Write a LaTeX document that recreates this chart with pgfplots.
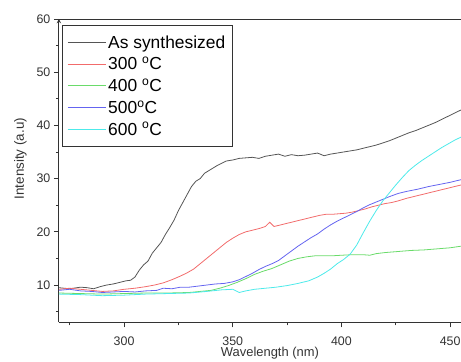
\documentclass[border=0pt]{standalone}
\usepackage{pgfplots}
\pgfplotsset{compat=1.18}
\usepackage{fontspec}
\setmainfont{Liberation Sans}
\definecolor{serGray}{HTML}{555555}
\definecolor{serRed}{HTML}{F26B6B}
\definecolor{serGreen}{HTML}{6ADB6A}
\definecolor{serBlue}{HTML}{6464F0}
\definecolor{serCyan}{HTML}{4DEAEA}
\definecolor{axc}{HTML}{333333}
\begin{document}
\begin{tikzpicture}
\begin{axis}[
  scale only axis,
  width=403bp, height=304bp,
  xmin=270, xmax=455, ymin=3, ymax=60,
  axis y line=left, axis x line=box,
  axis line style={axc, line width=0.9pt},
  every axis plot/.append style={line width=0.8pt},
  xtick={300,350,400,450}, minor xtick={275,325,375,425},
  ytick={10,20,30,40,50,60}, minor ytick={5,15,25,35,45,55},
  xtick pos=bottom,
  tick align=outside,
  major tick length=5bp, minor tick length=3bp,
  every tick/.style={axc, line width=0.8pt},
  /pgf/number format/assume math mode=true,
  tick label style={font=\fontsize{12.5}{13}\selectfont, text=axc},
  xticklabel style={yshift=-6bp},
  xlabel={Wavelength (nm)}, ylabel={Intensity (a.u)},
  xlabel style={font=\fontsize{13}{14}\selectfont, text=axc, yshift=5bp, xshift=10bp},
  ylabel style={font=\fontsize{13.5}{14}\selectfont, text=axc, yshift=3bp, xshift=12bp},
  legend style={at={(0.008,0.98)}, anchor=north west, draw=axc, line width=0.9pt,
    font=\fontsize{17.5}{18}\selectfont, row sep=3.5bp, inner xsep=5bp, inner ysep=8bp,
    cells={anchor=west}},
  legend cell align=left,
  legend image code/.code={\draw[#1,line width=0.8pt] (0bp,0bp) -- (38bp,0bp);},
]
\addplot[color=serGray, draw=serGray] coordinates {(270,9.5)(275,9.3)(280,9.6)(283,9.5)(286,9.3)(289,9.7)(292,10.0)(295,10.2)(298,10.5)(301,10.8)(303,10.9)(305,11.5)(307,12.8)(309,13.8)(311,14.5)(313,16.0)(315,17.0)(317,18.0)(319,19.5)(321,20.8)(323,22.2)(325,24.0)(327,25.5)(329,27.0)(331,28.5)(333,29.5)(335,30.0)(337,31.0)(339,31.5)(341,32.0)(343,32.5)(345,32.9)(347,33.3)(350,33.5)(353,33.8)(356,33.9)(359,34.0)(362,33.8)(365,34.2)(368,34.4)(371,34.6)(374,34.2)(377,34.5)(380,34.3)(383,34.4)(386,34.6)(389,34.8)(392,34.3)(395,34.6)(398,34.8)(401,35.0)(404,35.2)(407,35.4)(410,35.7)(413,36.0)(416,36.3)(419,36.7)(422,37.1)(425,37.6)(428,38.1)(431,38.6)(434,39.0)(437,39.5)(440,40.0)(443,40.5)(446,41.1)(449,41.7)(452,42.3)(455,42.9)};
\addlegendentry{As synthesized}
\addplot[color=serRed, draw=serRed] coordinates {(270,9.2)(275,9.4)(280,9.2)(285,9.0)(290,8.8)(295,8.9)(300,9.2)(305,9.4)(310,9.7)(314,10.0)(318,10.4)(322,11.0)(326,11.7)(329,12.3)(332,13.0)(335,14.0)(338,15.0)(341,16.0)(344,17.0)(347,18.0)(350,18.8)(353,19.5)(356,20.0)(359,20.3)(362,20.6)(365,21.0)(367,21.8)(369,21.0)(372,21.3)(375,21.6)(378,21.9)(381,22.2)(384,22.5)(387,22.8)(390,23.1)(393,23.3)(396,23.3)(399,23.4)(402,23.5)(405,23.7)(408,24.0)(411,24.3)(414,24.7)(417,25.0)(420,25.3)(423,25.5)(426,25.8)(430,26.3)(434,26.7)(438,27.1)(442,27.5)(446,27.9)(450,28.3)(455,28.8)};
\addlegendentry{300 \textsuperscript{o}C}
\addplot[color=serGreen, draw=serGreen] coordinates {(270,8.5)(280,8.4)(290,8.3)(300,8.4)(310,8.5)(320,8.5)(330,8.6)(335,8.8)(340,9.0)(344,9.4)(348,9.9)(352,10.5)(356,11.2)(360,12.0)(364,12.6)(368,13.1)(372,13.8)(376,14.5)(380,15.0)(384,15.3)(388,15.5)(392,15.5)(396,15.5)(400,15.6)(405,15.7)(410,15.7)(413,15.6)(416,15.9)(420,16.1)(426,16.3)(432,16.5)(438,16.6)(444,16.8)(450,17.0)(455,17.3)};
\addlegendentry{400 \textsuperscript{o}C}
\addplot[color=serBlue, draw=serBlue] coordinates {(270,9.0)(275,9.2)(280,8.9)(285,8.8)(290,8.6)(295,8.7)(300,8.8)(305,8.7)(310,8.9)(315,9.0)(318,9.4)(322,9.3)(326,9.6)(330,9.6)(334,9.8)(338,10.0)(342,10.2)(346,10.3)(350,10.6)(353,11.0)(356,11.6)(359,12.2)(362,12.9)(365,13.5)(368,14.0)(371,14.6)(374,15.5)(377,16.4)(380,17.3)(383,18.1)(386,18.9)(389,19.6)(392,20.5)(395,21.3)(398,22.0)(401,22.6)(404,23.2)(407,23.8)(410,24.5)(413,25.1)(416,25.6)(419,26.1)(422,26.6)(426,27.2)(430,27.6)(435,28.0)(440,28.5)(445,28.9)(450,29.3)(455,29.8)};
\addlegendentry{500\textsuperscript{o}C}
\addplot[color=serCyan, draw=serCyan] coordinates {(270,8.3)(280,8.2)(290,8.0)(300,8.1)(310,8.3)(320,8.4)(330,8.5)(338,8.8)(345,9.1)(350,9.2)(353,8.6)(356,8.9)(360,9.2)(365,9.4)(370,9.6)(375,9.9)(380,10.3)(385,10.8)(389,11.5)(392,12.2)(395,13.0)(398,14.0)(401,14.8)(404,15.8)(407,17.5)(410,19.8)(413,22.0)(416,24.0)(419,25.8)(422,27.3)(425,28.8)(428,30.2)(431,31.5)(434,32.5)(437,33.4)(440,34.2)(443,35.0)(446,35.8)(449,36.5)(452,37.2)(455,37.8)};
\addlegendentry{600 \textsuperscript{o}C}
\coordinate (SW) at (rel axis cs:0,0);
\coordinate (NE) at (rel axis cs:1,1);
\end{axis}
\pgfresetboundingbox
\path[use as bounding box] ([xshift=-59bp,yshift=-39bp]SW) rectangle ([yshift=19bp]NE);
\end{tikzpicture}
\end{document}
